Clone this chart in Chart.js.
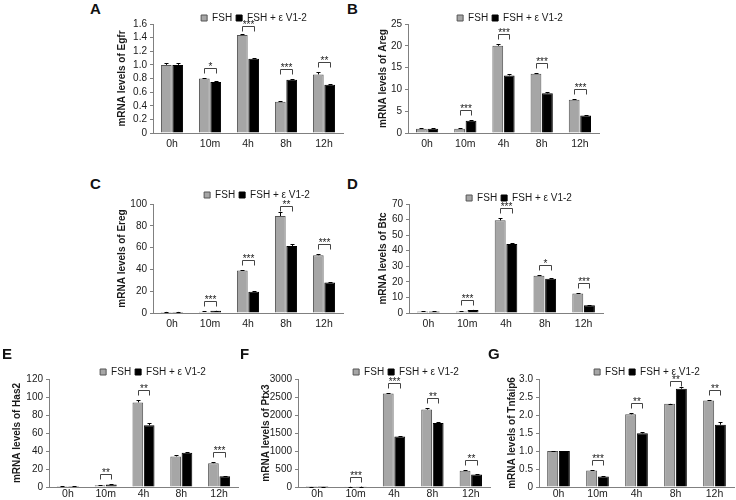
<!DOCTYPE html>
<html>
<head>
<meta charset="utf-8">
<script src="https://cdn.jsdelivr.net/npm/chart.js@4.4.1/dist/chart.umd.min.js"></script>
<style>
  html, body { margin: 0; padding: 0; background: #fff; }
  #fig { position: relative; width: 736px; height: 500px; overflow: hidden; }
  #fig canvas { position: absolute; }
  .tag { position: absolute; font: bold 15px/15px "Liberation Sans", Arial, sans-serif; color: #111; }
</style>
</head>
<body>
<div id="fig"></div>
<script>
const timepoints = ['0h', '10m', '4h', '8h', '12h'];
const seriesNames = ['FSH', 'FSH + \u03b5 V1-2'];

// Egfr
const egfrFsh = [1.0, 0.80, 1.44, 0.46, 0.86];
const egfrFshErr = [0.03, 0.01, 0.01, 0.01, 0.03];
const egfrV12 = [1.0, 0.75, 1.09, 0.78, 0.71];
const egfrV12Err = [0.03, 0.01, 0.01, 0.02, 0.01];
const egfrSig = ['', '*', '***', '***', '**'];

// Areg
const aregFsh = [1.0, 1.0, 20.0, 13.6, 7.6];
const aregFshErr = [0.05, 0.05, 0.3, 0.1, 0.15];
const aregV12 = [1.0, 2.8, 13.2, 9.1, 4.0];
const aregV12Err = [0.05, 0.1, 0.4, 0.2, 0.1];
const aregSig = ['', '***', '***', '***', '***'];

// Ereg
const eregFsh = [1.0, 1.2, 39, 89, 53];
const eregFshErr = [0.1, 0.2, 0.8, 3.5, 1.0];
const eregV12 = [1.0, 2.0, 19.5, 61.5, 28];
const eregV12Err = [0.1, 0.2, 0.5, 1.5, 0.6];
const eregSig = ['', '***', '***', '**', '***'];

// Btc
const btcFsh = [1.0, 1.0, 59.5, 24, 12.5];
const btcFshErr = [0.1, 0.1, 1.2, 0.2, 0.3];
const btcV12 = [1.0, 2.0, 44.3, 22, 5.0];
const btcV12Err = [0.1, 0.2, 0.8, 0.6, 0.1];
const btcSig = ['', '***', '***', '*', '***'];

// Has2
const has2Fsh = [1.0, 2.0, 94, 34, 26.5];
const has2FshErr = [0.1, 0.3, 2.5, 2.0, 0.8];
const has2V12 = [1.0, 2.8, 68.5, 38, 12];
const has2V12Err = [0.1, 0.3, 2.5, 0.7, 0.3];
const has2Sig = ['', '**', '**', '', '***'];

// Ptx3
const ptx3Fsh = [1, 5, 2600, 2150, 450];
const ptx3FshErr = [2, 2, 20, 50, 25];
const ptx3V12 = [1, 10, 1400, 1780, 350];
const ptx3V12Err = [2, 2, 15, 20, 10];
const ptx3Sig = ['', '***', '***', '**', '**'];

// Tnfaip6
const tnfFsh = [1.0, 0.46, 2.02, 2.31, 2.40];
const tnfFshErr = [0.01, 0.01, 0.03, 0.0, 0.03];
const tnfV12 = [1.0, 0.29, 1.49, 2.73, 1.73];
const tnfV12Err = [0.01, 0.01, 0.05, 0.05, 0.08];
const tnfSig = ['', '***', '**', '**', '**'];

const FONT = '"Liberation Sans", Arial, sans-serif';
const INK = '#1a1a1a';
const AXIS = '#808080';
const GREY = '#a6a6a6';
const LEG_PAD = 4;

Chart.defaults.font.family = FONT;
Chart.defaults.color = INK;

const panels = [
  { tag: 'A', gene: 'Egfr', fsh: egfrFsh, fshErr: egfrFshErr, v12: egfrV12, v12Err: egfrV12Err, sig: egfrSig,
    yMax: 1.6, yStep: 0.2, dec: 1,
    box: { left: 153, right: 343, top: 24, bottom: 133, legendX: 254, legendY: 18, titleX: 122, tagX: 90, tagY: 1, xPad: 5 } },
  { tag: 'B', gene: 'Areg', fsh: aregFsh, fshErr: aregFshErr, v12: aregV12, v12Err: aregV12Err, sig: aregSig,
    yMax: 25, yStep: 5, dec: 0,
    box: { left: 408, right: 599, top: 24, bottom: 133, legendX: 510, legendY: 18, titleX: 383, tagX: 347, tagY: 1, xPad: 5 } },
  { tag: 'C', gene: 'Ereg', fsh: eregFsh, fshErr: eregFshErr, v12: eregV12, v12Err: eregV12Err, sig: eregSig,
    yMax: 100, yStep: 20, dec: 0,
    box: { left: 153, right: 343, top: 204, bottom: 313, legendX: 257, legendY: 195, titleX: 122, tagX: 90, tagY: 176, xPad: 5 } },
  { tag: 'D', gene: 'Btc', fsh: btcFsh, fshErr: btcFshErr, v12: btcV12, v12Err: btcV12Err, sig: btcSig,
    yMax: 70, yStep: 10, dec: 0,
    box: { left: 409, right: 603, top: 204, bottom: 313, legendX: 519, legendY: 198, titleX: 383, tagX: 347, tagY: 176, xPad: 5 } },
  { tag: 'E', gene: 'Has2', fsh: has2Fsh, fshErr: has2FshErr, v12: has2V12, v12Err: has2V12Err, sig: has2Sig,
    yMax: 120, yStep: 20, dec: 0,
    box: { left: 49, right: 238, top: 379, bottom: 487, legendX: 153, legendY: 372, titleX: 17, tagX: 2, tagY: 346, xPad: 1 } },
  { tag: 'F', gene: 'Ptx3', fsh: ptx3Fsh, fshErr: ptx3FshErr, v12: ptx3V12, v12Err: ptx3V12Err, sig: ptx3Sig,
    yMax: 3000, yStep: 500, dec: 0,
    box: { left: 298, right: 490, top: 379, bottom: 487, legendX: 406, legendY: 372, titleX: 266, tagX: 240, tagY: 346, xPad: 1 } },
  { tag: 'G', gene: 'Tnfaip6', fsh: tnfFsh, fshErr: tnfFshErr, v12: tnfV12, v12Err: tnfV12Err, sig: tnfSig,
    yMax: 3, yStep: 0.5, dec: 1,
    box: { left: 539, right: 734, top: 379, bottom: 487, legendX: 647, legendY: 372, titleX: 512, tagX: 488, tagY: 346, xPad: 1 } },
];

// move the (chart-area wide) legend so its centre sits where the figure has it
const legendShift = {
  id: 'legendShift',
  afterLayout(chart, args, opts) {
    const lg = chart.legend, a = chart.chartArea;
    const dx = opts.cx - (a.left + a.right) / 2;
    lg.left += dx;
    lg.right += dx;
  }
};

// +SEM caps on every bar
const errorBars = {
  id: 'errorBars',
  afterDatasetsDraw(chart) {
    const { ctx } = chart;
    const y = chart.scales.y;
    ctx.save();
    ctx.strokeStyle = '#000';
    ctx.lineWidth = 1;
    chart.data.datasets.forEach((ds, i) => {
      chart.getDatasetMeta(i).data.forEach((bar, j) => {
        const top = Math.round(y.getPixelForValue(ds.data[j] + ds.errors[j])) + 0.5;
        const x = Math.round(bar.x) + 0.5;
        ctx.beginPath();
        ctx.moveTo(x, bar.y);
        ctx.lineTo(x, top);
        ctx.moveTo(x - 2, top);
        ctx.lineTo(x + 2, top);
        ctx.stroke();
      });
    });
    ctx.restore();
  }
};

// significance brackets with stars
const sigBrackets = {
  id: 'sigBrackets',
  afterDatasetsDraw(chart, args, opts) {
    const { ctx, chartArea } = chart;
    const y = chart.scales.y;
    const [d0, d1] = chart.data.datasets;
    const m0 = chart.getDatasetMeta(0).data;
    const m1 = chart.getDatasetMeta(1).data;
    ctx.save();
    ctx.strokeStyle = '#444';
    ctx.lineWidth = 1;
    ctx.fillStyle = INK;
    ctx.font = '10px ' + FONT;
    ctx.textAlign = 'center';
    ctx.textBaseline = 'alphabetic';
    opts.marks.forEach((mark, j) => {
      if (!mark) return;
      const peak = Math.min(
        y.getPixelForValue(d0.data[j] + d0.errors[j]),
        y.getPixelForValue(d1.data[j] + d1.errors[j])
      );
      const top = Math.round(Math.max(peak - 10, chartArea.top + 2)) + 0.5;
      const legs = top + 5;
      const x0 = Math.round(m0[j].x) + 0.5;
      const x1 = Math.round(m1[j].x) + 0.5;
      ctx.beginPath();
      ctx.moveTo(x0, legs);
      ctx.lineTo(x0, top);
      ctx.lineTo(x1, top);
      ctx.lineTo(x1, legs);
      ctx.stroke();
      ctx.fillText(mark, (x0 + x1) / 2, top + 1.5);
    });
    ctx.restore();
  }
};

const fig = document.getElementById('fig');

function drawPanel(p) {
  const g = p.box;
  const cLeft = Math.round(g.titleX - 8);
  const cTop = Math.round(g.legendY - 14);
  const canvas = document.createElement('canvas');
  canvas.width = g.right + 2 - cLeft;
  canvas.height = g.bottom + 20 - cTop;
  canvas.style.left = cLeft + 'px';
  canvas.style.top = cTop + 'px';
  fig.appendChild(canvas);

  const tag = document.createElement('div');
  tag.className = 'tag';
  tag.textContent = p.tag;
  tag.style.left = g.tagX + 'px';
  tag.style.top = g.tagY + 'px';
  fig.appendChild(tag);

  // legend row centre = legend top + padding + half the 10px item
  const legendTop = g.legendY - (LEG_PAD + 5) - cTop;

  return new Chart(canvas.getContext('2d'), {
    type: 'bar',
    data: {
      labels: timepoints,
      datasets: [
        { label: seriesNames[0], data: p.fsh, errors: p.fshErr,
          backgroundColor: GREY, borderColor: '#555', borderWidth: 1 },
        { label: seriesNames[1], data: p.v12, errors: p.v12Err,
          backgroundColor: '#000', borderColor: '#000', borderWidth: 1 },
      ],
    },
    options: {
      responsive: false,
      animation: false,
      events: [],
      categoryPercentage: 0.6,
      barPercentage: 0.94,
      layout: { padding: { left: 0, right: 2, top: legendTop, bottom: 0 } },
      scales: {
        x: {
          grid: { display: false, drawTicks: false },
          border: { display: true, color: AXIS },
          ticks: { color: INK, font: { size: 10.5 }, padding: g.xPad },
          afterFit: s => { s.height = 20; },
        },
        y: {
          min: 0,
          max: p.yMax,
          grid: { display: true, drawOnChartArea: false, tickLength: 3, color: AXIS },
          border: { display: true, color: AXIS },
          ticks: {
            stepSize: p.yStep,
            autoSkip: false,
            padding: 3,
            color: INK,
            font: { size: 10 },
            callback: v => (v === 0 ? '0' : v.toFixed(p.dec)),
          },
          title: {
            display: true,
            text: 'mRNA levels of ' + p.gene,
            color: INK,
            font: { size: 10, weight: 'bold' },
            padding: { top: 2, bottom: 0 },
          },
          afterFit: s => { s.width = g.left - cLeft; },
        },
      },
      plugins: {
        legend: {
          position: 'top',
          fullSize: false,
          maxHeight: g.top - g.legendY + LEG_PAD + 5,
          labels: { boxWidth: 6, boxHeight: 6, padding: LEG_PAD, color: INK, font: { size: 10 } },
        },
        tooltip: { enabled: false },
        legendShift: { cx: g.legendX - cLeft },
        sigBrackets: { marks: p.sig },
      },
    },
    plugins: [legendShift, errorBars, sigBrackets],
  });
}

panels.forEach(drawPanel);
</script>
</body>
</html>
